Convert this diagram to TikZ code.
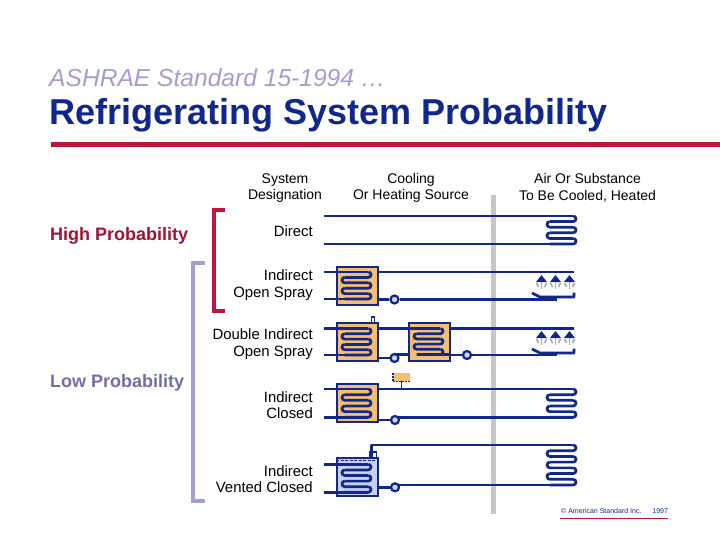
\documentclass[tikz,border=0pt]{standalone}
\usepackage{fontspec}
\setmainfont{Liberation Sans}
\definecolor{pipeblue}{HTML}{10288A}
\definecolor{barred}{HTML}{C0143C}
\definecolor{barlav}{HTML}{A0A0D0}
\definecolor{lowtext}{HTML}{7070A8}
\definecolor{tankorange}{HTML}{F5BE70}
\definecolor{waterblue}{HTML}{C8D0F0}
\definecolor{sprayg}{HTML}{A8A8C8}
\tikzset{
  pipe/.style={draw=pipeblue,line width=2.7pt},
  hxbox/.style={draw=pipeblue,line width=2pt,fill=tankorange,minimum width=41pt,minimum height=38pt,inner sep=0pt},
  wetbox/.style={hxbox,fill=waterblue},
  pumpc/.style={circle,draw=pipeblue,line width=2.2pt,fill=sprayg!50,minimum size=8pt,inner sep=0pt},
  lbl/.style={align=right,anchor=east,font=\fontsize{14.9}{16.5}\selectfont,text=black,inner sep=0pt},
  head/.style={align=center,font=\fontsize{14}{16.5}\selectfont,text=black,inner sep=0pt},
  prob/.style={anchor=west,inner sep=0pt,font=\fontsize{18}{20}\selectfont\bfseries},
}
% left, right, top row, rows, row step
\newcommand{\coil}[5]{%
  \pgfmathsetmacro{\rad}{#5/2}
  \pgfmathtruncatemacro{\last}{#4-1}
  \foreach \r in {1,...,\last}{
    \pgfmathsetmacro{\ya}{#3-(\r-1)*#5}
    \pgfmathsetmacro{\yb}{#3-\r*#5}
    \pgfmathtruncatemacro{\odd}{mod(\r,2)}
    \ifnum\odd=1
      \draw [pipe] (#2-\rad,\ya) arc (90:-90:\rad) -- (#1+\rad,\yb);
    \else
      \draw [pipe] (#1+\rad,\ya) arc (90:270:\rad) -- (#2-\rad,\yb);
    \fi
  }%
}
% three spray heads under one line
\newcommand{\spray}[1]{%
  \foreach \x in {541.5,555.5,569.5}{
    \fill [pipeblue] (\x-5.5,#1-7) -- (\x+5.5,#1-7) -- (\x,#1);
    \draw [sprayg,line width=1.6pt] (\x,#1-7) -- (\x,#1-14);
    \draw [sprayg,line width=1.6pt] (\x-5,#1-8) -- (\x-3,#1-12);
    \draw [sprayg,line width=1.6pt] (\x+5,#1-8) -- (\x+3,#1-12);
  }%
}
\begin{document}
\begin{tikzpicture}[x=1pt,y=1pt]
\useasboundingbox (0,0) rectangle (720,-540);
\fill [white] (0,0) rectangle (720,-540);
% title
\node [anchor=west,inner sep=0pt,text=barlav,font=\fontsize{24.6}{26}\selectfont\itshape] (subtitle) at (49,-78) {ASHRAE Standard 15-1994 \dots};
\node [anchor=west,inner sep=0pt,text=pipeblue,font=\fontsize{36}{38}\selectfont\bfseries] (title) at (49,-115.5) {Refrigerating System Probability};
\fill [barred] (51,-142) rectangle (720,-147);
% heads
\node [head] (hsys) at (285,-188) {System\\Designation};
\node [head] (hcool) at (411,-188) {Cooling\\Or Heating Source};
\node [head] (hair) at (587.5,-188) {Air Or Substance\\To Be Cooled, Heated};
% probability
\node [prob,text=barred!85!black] (high) at (50,-236) {High Probability};
\node [prob,text=lowtext] (low) at (50,-382.5) {Low Probability};
\draw [barlav,line width=4.6pt] (205,-263) -- (193,-263) -- (193,-501) -- (205,-501);
\draw [barred,line width=4.6pt] (225,-210) -- (214,-210) -- (214,-311) -- (225,-311);
% row names
\node [lbl] (ldirect) at (313,-231.5) {Direct};
\node [lbl] (lopen) at (313,-285) {Indirect\\Open Spray};
\node [lbl] (ldouble) at (313,-344) {Double Indirect\\Open Spray};
\node [lbl] (lclosed) at (313,-405) {Indirect\\Closed};
\node [lbl] (lvented) at (313,-479) {Indirect\\Vented Closed};
% divider
\fill [black!22] (490.5,-195) rectangle (495.5,-514);
% direct
\coordinate (dirtopa) at (324,-216);
\coordinate (dirtopb) at (573.2,-216);
\coordinate (dirbota) at (324,-244);
\coordinate (dirbotb) at (573.2,-244);
\draw [pipe] (dirtopa) -- (dirtopb);
\draw [pipe] (dirbota) -- (dirbotb);
\coil{547}{576}{-216}{6}{5.6}
% indirect open spray
\node [hxbox] (boxa) at (357,-286) {};
\coordinate (atopa) at (324,-272);
\coordinate (atopb) at (368,-272);
\coordinate (atopc) at (574,-272);
\coordinate (abota) at (324,-299);
\coordinate (abotb) at (368,-299);
\coordinate (abotc) at (557,-299.5);
\coil{342}{371}{-272}{6}{5.4}
\draw [pipe] (atopa) -- (atopb);
\draw [pipe] (abota) -- (abotb);
\draw [pipe] (boxa.east |- atopc) -- (atopc);
\node [pumpc] (pumpa) at (394.5,-299.5) {};
\draw [pipe] (boxa.east |- pumpa) -- (pumpa);
\draw [pipe] (pumpa) -- (abotc);
\coordinate (trayaa) at (532,-293);
\coordinate (trayab) at (540,-297);
\coordinate (trayac) at (574,-297);
\coordinate (trayad) at (574,-292.5);
\draw [pipe,line join=round] (trayaa) -- (trayab) -- (trayac) -- (trayad);
\spray{-275}
% double indirect open spray
\node [hxbox] (boxb) at (357,-342) {};
\node [hxbox] (boxc) at (429,-342) {};
\coordinate (btopa) at (324,-328.5);
\coordinate (btopb) at (368,-328.5);
\coordinate (bbota) at (324,-355);
\coordinate (bbotb) at (368,-355);
\coordinate (ctopb) at (440,-328.5);
\coordinate (ctopc) at (574,-328.5);
\coordinate (cbotb) at (440,-354.5);
\coordinate (cbotc) at (557,-355);
\coil{342}{371}{-328.5}{6}{5.3}
\coil{414}{443}{-328.5}{6}{5.2}
\draw [pipe] (btopa) -- (btopb);
\draw [pipe] (bbota) -- (bbotb);
\draw [pipe] (boxb.east |- ctopc) -- (ctopb);
\draw [pipe] (boxc.east |- ctopc) -- (ctopc);
\draw [pipe] (boxb.east |- 394.5,-358) -- (394.5,-358);
\draw [pipe] (394.5,-354.5) -- (boxc.west |- cbotb);
\draw [pipe] (cbotb) -- (boxc.east |- cbotb);
\node [pumpc] (pumpb) at (394.5,-358) {};
\node [pumpc] (pumpc) at (467,-355) {};
\draw [pipe] (boxc.east |- pumpc) -- (pumpc);
\draw [pipe] (pumpc) -- (cbotc);
\coordinate (trayba) at (532,-349);
\coordinate (traybb) at (540,-353);
\coordinate (traybc) at (574,-353);
\coordinate (traybd) at (574,-348.5);
\draw [pipe,line join=round] (trayba) -- (traybb) -- (traybc) -- (traybd);
\spray{-331}
\draw [pipeblue,line width=1.4pt,fill=white] (371.5,-322) -- (371.5,-317) -- (374.5,-317) -- (374.5,-322);
% indirect closed
\node [hxbox] (boxd) at (357.5,-402.5) {};
\coordinate (dtopa) at (324,-389);
\coordinate (dtopb) at (368,-389);
\coordinate (dtopc) at (573.2,-389);
\coordinate (dbota) at (324,-417.3);
\coordinate (dbotb) at (368,-417.3);
\coordinate (dbotc) at (573.2,-417.3);
\coil{342}{371}{-389}{6}{5.66}
\coil{547}{576}{-389}{6}{5.66}
\draw [pipe] (dtopa) -- (dtopb);
\draw [pipe] (dbota) -- (dbotb);
\draw [pipe] (boxd.east |- dtopc) -- (dtopc);
\draw [pipe] (boxd.east |- 395,-420) -- (395,-420);
\draw [pipe] (395,-417.3) -- (dbotc);
\node [pumpc] (pumpd) at (395,-420) {};
\node [fill=tankorange,minimum width=17pt,minimum height=8pt,inner sep=0pt] (tank) at (401.5,-377) {};
\draw [pipeblue,line width=1.4pt,dash pattern=on 2pt off 1pt] (tank.north west) -- (tank.south west) -- (tank.south east);
\draw [pipeblue,line width=1.6pt] (tank.south) -- (tank.south |- dtopc);
% indirect vented closed
\node [wetbox] (boxe) at (357.5,-476.5) {};
\coordinate (etopa) at (324,-464.3);
\coordinate (etopb) at (368,-464.3);
\coordinate (ebota) at (324,-492.3);
\coordinate (ebotb) at (368,-492.3);
\coordinate (ventb) at (371.7,-445);
\coordinate (ventc) at (573.2,-445);
\coordinate (ebotc) at (573.2,-485);
\coil{342}{371}{-464.3}{6}{5.6}
\coil{547}{576}{-445}{8}{5.714}
\draw [pipe] (etopa) -- (etopb);
\draw [pipe] (ebota) -- (ebotb);
\draw [pipeblue,line width=1.4pt,fill=white] (369.2,-457) -- (369.2,-452) -- (376.7,-452) -- (376.7,-457);
\draw [pipe,line join=round] (ventb |- boxe.north) -- (ventb) -- (ventc);
\draw [pipeblue,line width=1pt,dash pattern=on 3pt off 1.5pt] (boxe.west |- etopa) ++(0,4) -- ++(41,0);
\draw [pipe] (boxe.east |- 395,-487.3) -- (395,-487.3);
\draw [pipe] (395,-485) -- (ebotc);
\node [pumpc] (pumpe) at (395,-487.3) {};
% credit
\node [anchor=west,inner sep=0pt,text=pipeblue,font=\fontsize{7}{8}\selectfont] (credit) at (561,-511) {© American Standard Inc.\hspace{11pt}1997};
\draw [barred,line width=0.7pt] (560,-518) -- (668,-518);
\end{tikzpicture}
\end{document}
